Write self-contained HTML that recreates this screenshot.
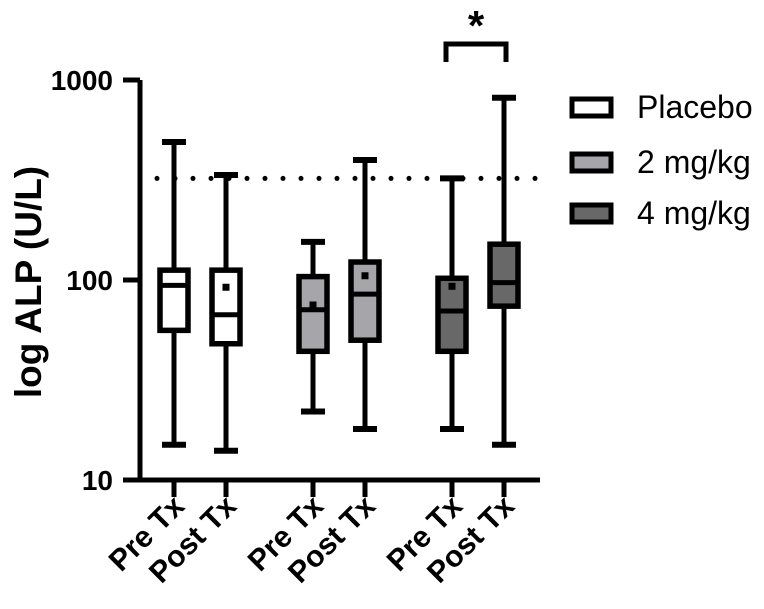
<!DOCTYPE html>
<html><head><meta charset="utf-8"><style>
body{margin:0;background:#fff;}
svg{display:block;font-family:"Liberation Sans",Arial,sans-serif;}
</style></head><body>
<svg id="chart" width="764" height="609" viewBox="0 0 764 609">
<g id="axes"></g><g id="marks"></g>
<g>
<path d="M446 62 V44 H506 V62" fill="none" stroke="#000" stroke-width="5"/>
<text x="476" y="40" font-size="42" font-weight="bold" text-anchor="middle">*</text>
</g>
<g>
<g><rect x="572" y="99" width="39" height="17" fill="#fff" stroke="#000" stroke-width="5"/><text x="637" y="118" font-size="32">Placebo</text></g>
<g><rect x="572" y="154" width="39" height="17" fill="#a6a5aa" stroke="#000" stroke-width="5"/><text x="637" y="173" font-size="32">2 mg/kg</text></g>
<g><rect x="572" y="205" width="39" height="17" fill="#686868" stroke="#000" stroke-width="5"/><text x="637" y="224" font-size="32">4 mg/kg</text></g>
</g>
<text transform="translate(41,282) rotate(-90)" font-size="37" font-weight="bold" text-anchor="middle">log ALP (U/L)</text>
</svg>
<script>
const categories=["Pre Tx","Post Tx","Pre Tx","Post Tx","Pre Tx","Post Tx"];
const groups=["placebo","placebo","2mg","2mg","4mg","4mg"];
const whiskerLow=[15,14,22,18,18,15];
const q1=[56,48,44,50,44,74];
const median=[94,67,71,85,70,97];
const q3=[112,112,104,123,102,151];
const whiskerHigh=[490,335,155,398,322,815];
const means=[null,92,75,105,93,null];
const yTicks=[10,100,1000];
const refLine=322;
const fills={placebo:"#fff","2mg":"#a6a5aa","4mg":"#686868"};
const xPos=[174,226,313,365,452,504];
const NS="http://www.w3.org/2000/svg";
function y(v){return 680-200*Math.log10(v);}
function mk(p,t,a){const e=document.createElementNS(NS,t);for(const k in a)e.setAttribute(k,a[k]);p.appendChild(e);return e;}
const ax=document.getElementById('axes'),mg=document.getElementById('marks');
const yl=mk(ax,'line',{x1:140,y1:y(1000),x2:140,y2:y(10)+2.5,stroke:'#000','stroke-width':5});


const xl=mk(ax,'line',{x1:123,y1:y(10),x2:540,y2:y(10),stroke:'#000','stroke-width':5});


yTicks.forEach(t=>{
 mk(ax,'line',{x1:123,y1:y(t),x2:140,y2:y(t),stroke:'#000','stroke-width':5});
 const tx=mk(ax,'text',{x:113,y:y(t)+10,'font-size':28,'font-weight':'bold','text-anchor':'end'});
 tx.textContent=t;
 
 
});
const rl=mk(ax,'line',{x1:157,y1:y(refLine),x2:540,y2:y(refLine),stroke:'#000','stroke-width':5,'stroke-dasharray':'0 18','stroke-linecap':'round'});


categories.forEach((c,i)=>{
 const x=xPos[i];
 mk(ax,'line',{x1:x,y1:y(10),x2:x,y2:y(10)+17,stroke:'#000','stroke-width':5});
 const tx=mk(ax,'text',{transform:`translate(${x+12},${y(10)+28}) rotate(-45)`,'font-size':30,'font-weight':'bold','text-anchor':'end'});
 tx.textContent=c;
 
 
 const g=mk(mg,'g',{});
 
 
 mk(g,'line',{x1:x,y1:y(whiskerHigh[i]),x2:x,y2:y(whiskerLow[i]),stroke:'#000','stroke-width':5});
 mk(g,'line',{x1:x-12,y1:y(whiskerHigh[i]),x2:x+12,y2:y(whiskerHigh[i]),stroke:'#000','stroke-width':6});
 mk(g,'line',{x1:x-12,y1:y(whiskerLow[i]),x2:x+12,y2:y(whiskerLow[i]),stroke:'#000','stroke-width':6});
 mk(g,'rect',{x:x-14,y:y(q3[i]),width:28,height:y(q1[i])-y(q3[i]),fill:fills[groups[i]],stroke:'#000','stroke-width':5.5});
 mk(g,'line',{x1:x-14,y1:y(median[i]),x2:x+14,y2:y(median[i]),stroke:'#000','stroke-width':5});
 if(means[i]!==null) mk(g,'rect',{x:x-3.5,y:y(means[i])-3.5,width:7,height:7,fill:'#000'});
});
</script>
</body></html>
